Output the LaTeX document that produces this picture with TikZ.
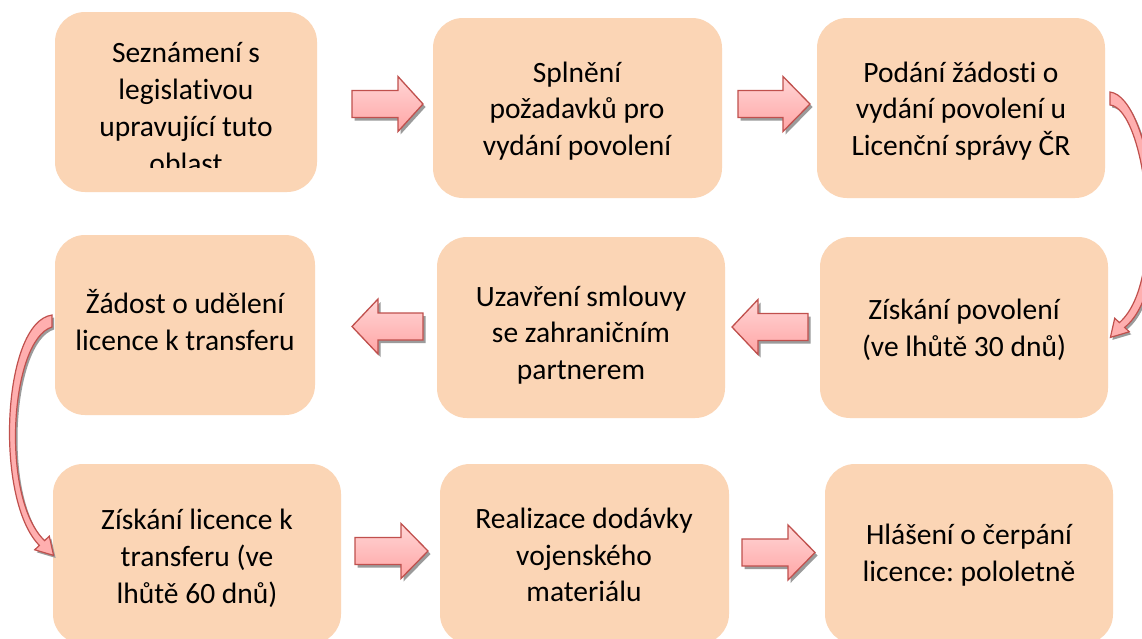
\documentclass[tikz,border=0pt]{standalone}
\usepackage{fontspec}
\setmainfont{Carlito}[Ligatures={NoCommon}]
\definecolor{peach}{RGB}{251,213,181}
\definecolor{arrred}{RGB}{192,80,77}
\definecolor{pinktop}{RGB}{255,214,214}
\definecolor{pinkbot}{RGB}{255,165,165}
\definecolor{shadowgray}{RGB}{155,155,155}
\newcommand\myblock[4]{%
  \begin{scope}[shift={(2.5,3)}]
    \fill[ashadow] (#1,#4-13.5) -- (#2,#4-13.5) -- (#2,#4-27.5) -- (#3,#4) -- (#2,#4+27.5) -- (#2,#4+13.5) -- (#1,#4+13.5) -- cycle;
  \end{scope}
  \path[barrow] (#1,#4-13.5) -- (#2,#4-13.5) -- (#2,#4-27.5) -- (#3,#4) -- (#2,#4+27.5) -- (#2,#4+13.5) -- (#1,#4+13.5) -- cycle;}
\begin{document}
\frenchspacing
\begin{tikzpicture}[x=1pt,y=-1pt,
  box/.style={fill=peach, rounded corners=30pt, draw=none, inner sep=0pt},
  boxtext/.style={align=center, font=\fontsize{29.5}{36.8}\selectfont\frenchspacing, inner sep=0pt, text=black},
  barrow/.style={draw=arrred, line width=1.3pt, top color=pinktop, bottom color=pinkbot, line join=miter},
  ashadow/.style={fill=shadowgray, draw=none},
  carrow/.style={draw=arrred, line width=1.2pt, fill=pinkbot!80!pinktop, line join=miter}]
\useasboundingbox (0,0) rectangle (1142,638);
\clip (0,0) rectangle (1142,638);
\fill[white] (0,0) rectangle (1142,638);

% boxes
\node[box, minimum width=262pt, minimum height=180pt] (b1) at (186,102) {};
\node[box, minimum width=289pt, minimum height=180pt] (b2) at (577.5,108) {};
\node[box, minimum width=288pt, minimum height=180pt] (b3) at (961,108) {};
\node[box, minimum width=260pt, minimum height=180pt] (b4) at (185,325) {};
\node[box, minimum width=288pt, minimum height=181pt] (b5) at (581,327.5) {};
\node[box, minimum width=288pt, minimum height=181pt] (b6) at (964,327.5) {};
\node[box, minimum width=288pt, minimum height=180pt] (b7) at (197,554) {};
\node[box, minimum width=289pt, minimum height=180pt] (b8) at (584.5,554) {};
\node[box, minimum width=288pt, minimum height=180pt] (b9) at (969,554) {};

% texts
\begin{scope}
  \clip (0,0) rectangle (1142,167);
  \node[boxtext] (t1) at (186,108) {Seznámení s\\legislativou\\upravující tuto\\oblast};
\end{scope}
\node[boxtext] (t2) at (577,111) {Splnění\\požadavků pro\\vydání povolení};
\node[boxtext] (t3) at (961,111) {Podání žádosti o\\vydání povolení u\\Licenční správy ČR};
\node[boxtext] (t4) at (185,320) {Žádost o udělení\\licence k transferu};
\node[boxtext] (t5) at (581,335) {Uzavření smlouvy\\se zahraničním\\partnerem};
\node[boxtext] (t6) at (964,330) {Získání povolení\\(ve lhůtě 30 dnů)};
\node[boxtext] (t7) at (197,558.5) {Získání licence k\\transferu (ve\\lhůtě 60 dnů)};
\node[boxtext] (t8) at (584,555) {Realizace dodávky\\vojenského\\materiálu};
\node[boxtext] (t9) at (969,555) {Hlášení o čerpání\\licence: pololetně};

% block arrows
\myblock{352}{398}{423}{104}
\myblock{738}{783}{810}{104}
\myblock{423}{378}{352}{326.5}
\myblock{808}{758}{732}{327}
\myblock{355}{401}{428}{551}
\myblock{742}{788}{815}{552.5}

% curved arrow right (b3 -> b6)
\begin{scope}[shift={(2,2.5)}]
\fill[ashadow] (1110,92) .. controls (1152,97) and (1178,285) .. (1124.6,327.4) -- (1129.3,331.8) -- (1110.4,337.4) -- (1114.7,318.2) -- (1119.4,322.6) .. controls (1168,280) and (1145,108) .. (1110,105) -- cycle;
\end{scope}
\path[carrow] (1110,92) .. controls (1152,97) and (1178,285) .. (1124.6,327.4) -- (1129.3,331.8) -- (1110.4,337.4) -- (1114.7,318.2) -- (1119.4,322.6) .. controls (1168,280) and (1145,108) .. (1110,105) -- cycle;

% curved arrow left (b4 -> b7)
\begin{scope}[shift={(2,2.5)}]
\fill[ashadow] (52,315) .. controls (2,322) and (-6,500) .. (39.4,545.4) -- (34.7,549.8) -- (53.6,555.4) -- (49.3,536.2) -- (44.6,540.6) .. controls (0,498) and (10,340) .. (52,327) -- cycle;
\end{scope}
\path[carrow] (52,315) .. controls (2,322) and (-6,500) .. (39.4,545.4) -- (34.7,549.8) -- (53.6,555.4) -- (49.3,536.2) -- (44.6,540.6) .. controls (0,498) and (10,340) .. (52,327) -- cycle;
\end{tikzpicture}
\end{document}
